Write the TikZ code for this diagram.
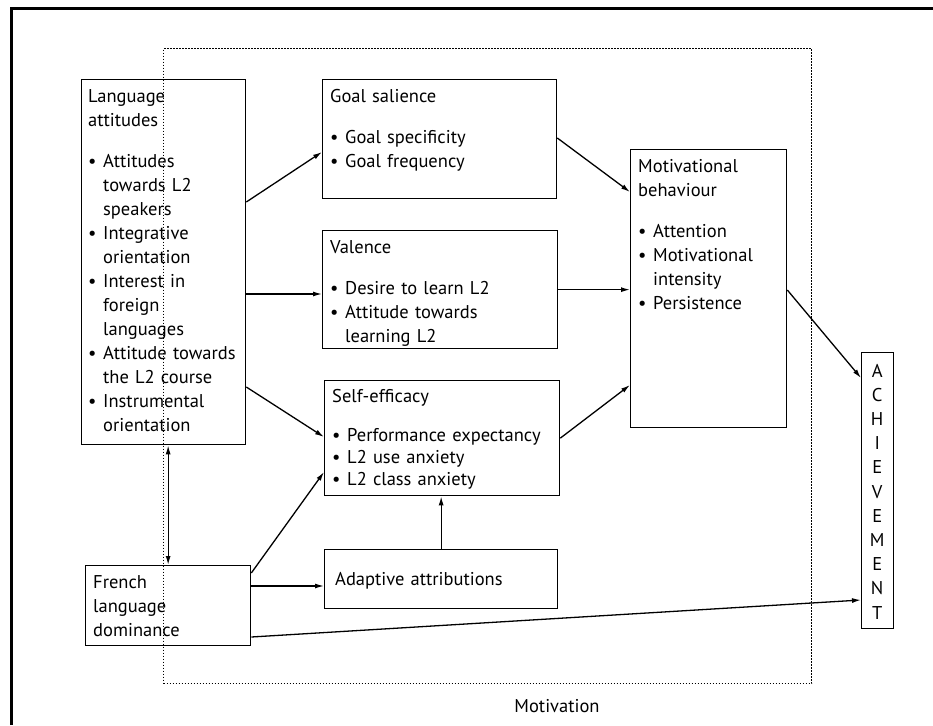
\documentclass[tikz,border=0pt]{standalone}
\usepackage{fontspec}
\setmainfont{PT Sans}
\usetikzlibrary{arrows.meta, calc, positioning}

% bullet line with hanging indent
\newcommand{\bul}{\par\hangindent=15pt\hangafter=1\noindent\makebox[15pt][l]{\textbullet}}
\newcommand{\ttl}[1]{#1\par\vspace{17pt}}

\begin{document}
\begin{tikzpicture}[x=1pt, y=-1pt,
		box/.style = {draw, line width=1.3pt, anchor=north west, inner sep=0pt},
		txt/.style = {anchor=base west, inner sep=0pt, text width=#1, align=left,
			font=\fontsize{18.5}{24}\selectfont},
		txt/.default = 160pt,
		arr/.style = {line width=1.3pt, -{Latex[length=9pt, width=5pt]}},
		arrboth/.style = {line width=1.3pt, {Latex[length=9pt, width=5pt]}-{Latex[length=9pt, width=5pt]}}]
	\useasboundingbox (0,0) rectangle (933,725);

	\begin{scope}
		\draw [line width=3pt] (11,725) -- (11,9) -- (933,9);
	\end{scope}

	% Motivation frame
	\node [box, line width=1.4pt, dash pattern=on 1.4pt off 1.6pt, minimum width=648, minimum height=635] (motiv) at (163,48) {};
	\node [font=\fontsize{18.5}{24}\selectfont] (motivlbl) at (557,706) {Motivation};

	% boxes
	\node [box, minimum width=164, minimum height=365] (lang) at (81,79) {};
	\node [box, minimum width=165, minimum height=80] (french) at (85,565) {};
	\node [box, minimum width=234, minimum height=119] (goal) at (322,79) {};
	\node [box, minimum width=235, minimum height=118] (valence) at (322,230) {};
	\node [box, minimum width=235, minimum height=115] (selfeff) at (324,380) {};
	\node [box, minimum width=233, minimum height=59] (adapt) at (324,549) {};
	\node [box, minimum width=156, minimum height=278] (motbeh) at (630,149) {};
	\node [box, minimum width=32, minimum height=276] (achieve) at (861,352) {};

	% texts
	\node [txt] (langtxt) at (88,102) {\ttl{Language\newline attitudes}%
		\bul Attitudes\newline towards L2\newline speakers
		\bul Integrative\newline orientation
		\bul Interest in\newline foreign\newline languages
		\bul Attitude towards\newline the L2 course
		\bul Instrumental\newline orientation\par};
	\node [txt] (frenchtxt) at (93,588) {French\newline language\newline dominance};
	\node [txt=220pt] (goaltxt) at (330,102) {\ttl{Goal salience}%
		\bul Goal specificity
		\bul Goal frequency\par};
	\node [txt=220pt] (valtxt) at (330,253) {\ttl{Valence}%
		\bul Desire to learn L2
		\bul Attitude towards\newline learning L2\par};
	\node [txt=228pt, font=\fontsize{18.5}{22}\selectfont] (selftxt) at (332,402) {\ttl{Self-efficacy}%
		\bul Performance expectancy
		\bul L2 use anxiety
		\bul L2 class anxiety\par};
	\node [txt=220pt] (adapttxt) at (335,585) {Adaptive attributions};
	\node [txt=150pt] (motbehtxt) at (638,172) {\ttl{Motivational\newline behaviour}%
		\bul Attention
		\bul Motivational\newline intensity
		\bul Persistence\par};
	\node [txt=20pt, align=center, font=\fontsize{18.5}{24.2}\selectfont] (achievetxt) at (867,377)
		{A\\C\\H\\I\\E\\V\\E\\M\\E\\N\\T};

	% connectors
	\draw [arr] ($(lang.north east)+(0,123)$) -- ($(goal.north west)+(0,73)$);
	\coordinate (valin) at ($(valence.north west)+(0,64)$);
	\draw [arr] (lang.east |- valin) -- (valin);
	\draw [arr] ($(lang.north east)+(0,308)$) -- ($(selfeff.north west)+(0,57)$);
	\draw [arr] ($(french.north east)+(0,8)$) -- ($(selfeff.north west)+(0,92)$);
	\coordinate (adin) at ($(adapt.north west)+(0,37)$);
	\draw [arr] (french.east |- adin) -- (adin);
	\draw [arr] (adapt.north) -- (adapt.north |- selfeff.south);
	\draw [arrboth] (french.north) -- (french.north |- lang.south);

	\draw [arr] ($(goal.north east)+(0,59)$) -- ($(motbeh.north west)+(0,43)$);
	\draw [arr] (valence.east) -- (motbeh.west |- valence.east);
	\draw [arr] (selfeff.east) -- ($(motbeh.north west)+(0,236)$);

	\draw [arr] ($(motbeh.north east)+(0,141)$) -- ($(achieve.north west)+(0,26)$);
	\draw [arr] ($(french.north east)+(0,72)$) -- ($(achieve.north west)+(0,248)$);
\end{tikzpicture}
\end{document}
